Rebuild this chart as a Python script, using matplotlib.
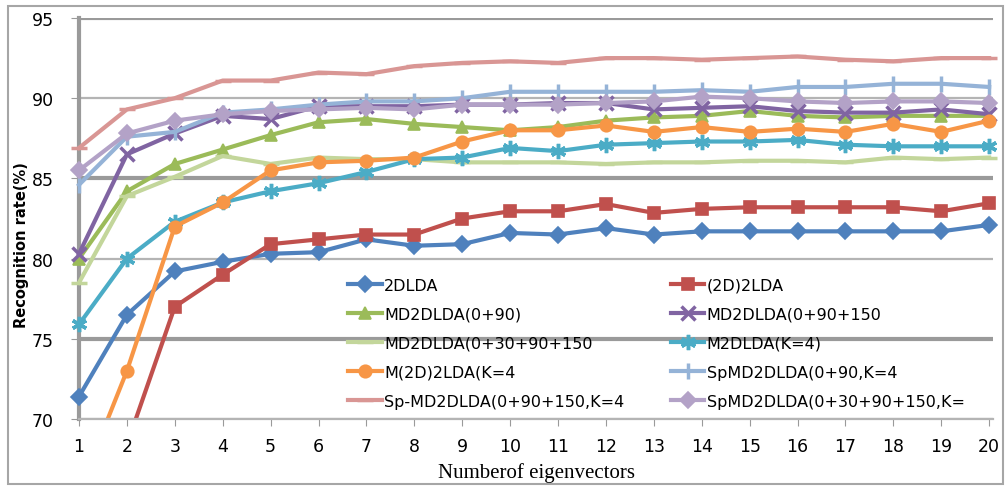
import numpy as np
import matplotlib.pyplot as plt
from matplotlib.patches import Rectangle

# number of eigenvectors
n_eig = np.arange(1, 21)

# recognition rates (%) for each method
lda2d = [71.4, 76.5, 79.2, 79.8, 80.3, 80.4, 81.2, 80.8, 80.9, 81.6,
         81.5, 81.9, 81.5, 81.7, 81.7, 81.7, 81.7, 81.7, 81.7, 82.1]
lda2d2 = [65.0, 68.4, 77.0, 79.0, 80.9, 81.2, 81.5, 81.5, 82.5, 82.95,
          82.95, 83.4, 82.85, 83.1, 83.2, 83.2, 83.2, 83.2, 82.95, 83.45]
md_0_90 = [80.0, 84.2, 85.9, 86.8, 87.7, 88.5, 88.7, 88.4, 88.2, 88.0,
           88.2, 88.6, 88.8, 88.9, 89.2, 88.9, 88.8, 88.9, 88.9, 88.9]
md_0_90_150 = [80.3, 86.5, 87.8, 88.9, 88.7, 89.5, 89.5, 89.5, 89.6, 89.6,
               89.7, 89.7, 89.3, 89.4, 89.5, 89.2, 89.1, 89.1, 89.3, 89.0]
md_0_30_90_150 = [78.5, 83.9, 85.1, 86.4, 85.9, 86.3, 86.2, 86.2, 86.0, 86.0,
                  86.0, 85.9, 86.0, 86.0, 86.1, 86.1, 86.0, 86.3, 86.2, 86.3]
m2dlda = [75.9, 80.0, 82.3, 83.5, 84.2, 84.7, 85.4, 86.2, 86.3, 86.9,
          86.7, 87.1, 87.2, 87.3, 87.3, 87.4, 87.1, 87.0, 87.0, 87.0]
m2d2lda = [65.5, 73.0, 82.0, 83.5, 85.5, 86.0, 86.1, 86.3, 87.3, 88.0,
           88.0, 88.3, 87.9, 88.2, 87.9, 88.1, 87.9, 88.4, 87.9, 88.6]
sp_0_90 = [84.6, 87.6, 87.9, 89.1, 89.3, 89.6, 89.8, 89.8, 90.0, 90.4,
           90.4, 90.4, 90.4, 90.5, 90.4, 90.7, 90.7, 90.9, 90.9, 90.7]
sp_0_90_150 = [86.9, 89.3, 90.0, 91.1, 91.1, 91.6, 91.5, 92.0, 92.2, 92.3,
               92.2, 92.5, 92.5, 92.4, 92.5, 92.6, 92.4, 92.3, 92.5, 92.5]
sp_0_30_90_150 = [85.5, 87.8, 88.6, 89.0, 89.2, 89.3, 89.4, 89.3, 89.6, 89.6,
                  89.6, 89.7, 89.8, 90.1, 90.0, 89.8, 89.7, 89.8, 89.8, 89.7]

# (values, label as shown in the truncated legend, colour, marker, marker size)
series = [
    (lda2d, "2DLDA", "#4F81BD", "D", 8),
    (lda2d2, "(2D)2LDA", "#C0504D", "s", 9),
    (md_0_90, "MD2DLDA(0+90)", "#9BBB59", "^", 9),
    (md_0_90_150, "MD2DLDA(0+90+150", "#8064A2", "x", 10),
    (md_0_30_90_150, "MD2DLDA(0+30+90+150", "#C3D69B", "_", 12),
    (m2dlda, "M2DLDA(K=4)", "#4BACC6", (6, 2, 0), 11),
    (m2d2lda, "M(2D)2LDA(K=4", "#F79646", "o", 9),
    (sp_0_90, "SpMD2DLDA(0+90,K=4", "#95B3D7", "|", 12),
    (sp_0_90_150, "Sp-MD2DLDA(0+90+150,K=4", "#D99694", "_", 12),
    (sp_0_30_90_150, "SpMD2DLDA(0+30+90+150,K=", "#B3A2C7", "D", 8),
]

W, H = 1008, 489
fig = plt.figure(figsize=(W / 100, H / 100), dpi=100)
fig.patches.append(Rectangle((8 / W, 4 / H), 995 / W, 478 / H, transform=fig.transFigure,
                             fill=False, edgecolor="#a6a6a6", lw=1.5))

ax = fig.add_axes([79 / W, 1 - 420 / H, (993 - 79) / W, (420 - 19) / H])
ax.set_xlim(1, 20.08)
ax.set_ylim(70, 95)

# gridlines, excel-like
for gy in [70, 80, 90]:
    ax.axhline(gy, color="#b4b4b4", lw=1.6, zorder=0)
for gy in [75, 85, 95]:
    ax.axhline(gy, color="#9a9a9a", lw=3.0, zorder=0)

# clip below 70 but let the markers at x=1 show in full
clip_box = Rectangle((0.5, 70), 21, 26, transform=ax.transData, visible=False)
ax.add_patch(clip_box)

handles = []
for vals, lab, col, mk, ms in series:
    h, = ax.plot(n_eig, vals, color=col, lw=3.0, marker=mk, ms=ms,
                 mec=col, mew=2.5 if mk in ("x", "|", "_", (6, 2, 0)) else 1.2,
                 label=lab, solid_joinstyle="round")
    h.set_clip_path(clip_box)
    handles.append(h)

for s in ["top", "right"]:
    ax.spines[s].set_visible(False)
ax.spines["left"].set_color("#9a9a9a")
ax.spines["left"].set_linewidth(3)
ax.spines["left"].set_zorder(0.5)
ax.spines["bottom"].set_color("#b4b4b4")
ax.spines["bottom"].set_linewidth(1.6)

ax.set_xticks(n_eig)
ax.set_yticks([70, 75, 80, 85, 90, 95])
ax.tick_params(axis="x", length=5, color="#9a9a9a", labelsize=12.5, pad=8)
ax.tick_params(axis="y", length=6, color="#9a9a9a", labelsize=12.5, pad=12)

ax.set_xlabel("Numberof eigenvectors", family="Liberation Serif", fontsize=15, labelpad=5)
fig.text(22 / W, 1 - 245 / H, "Recognition rate(%)", rotation=90, fontsize=10.5,
         fontweight="bold", ha="center", va="center")

# legend drawn row by row, as two columns
col1 = [handles[i] for i in (0, 2, 4, 6, 8)]
col2 = [handles[i] for i in (1, 3, 5, 7, 9)]
kw = dict(frameon=False, fontsize=11.5, handlelength=2.1, handletextpad=0.15,
          labelspacing=0.88, borderpad=0, loc="upper left")
leg1 = ax.legend(handles=col1, bbox_to_anchor=(6.45, 79.3), bbox_transform=ax.transData, **kw)
ax.add_artist(leg1)
ax.legend(handles=col2, bbox_to_anchor=(13.19, 79.3), bbox_transform=ax.transData, **kw)

fig.savefig("out.png", dpi=100)
